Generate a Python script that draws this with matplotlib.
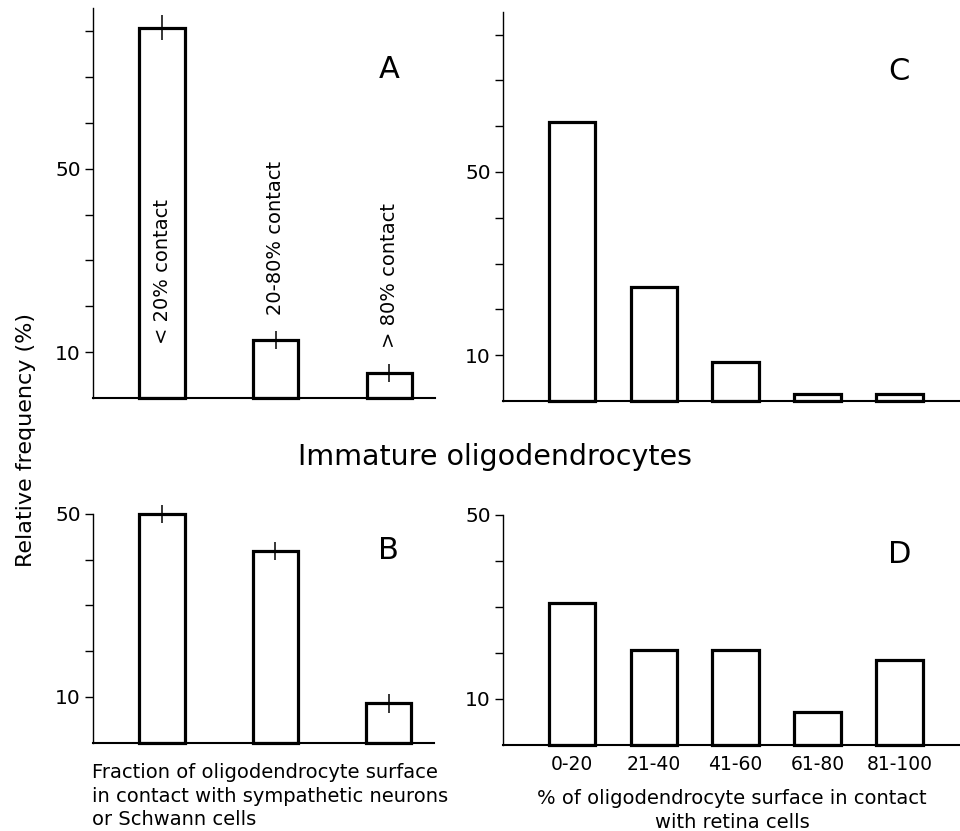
import numpy as np
import matplotlib
matplotlib.use("Agg")
import matplotlib.pyplot as plt

# panel A / B: contact with sympathetic neurons or Schwann cells
contact_labels = ["< 20% contact", "20-80% contact", "> 80% contact"]
a_vals = [80.8, 12.6, 5.5]
a_err = [2.8, 2.0, 1.9]
b_vals = [49.9, 41.8, 8.6]
b_err = [2.0, 2.0, 2.1]

# panel C / D: contact with retina cells
retina_bins = ["0-20", "21-40", "41-60", "61-80", "81-100"]
c_vals = [61.0, 25.0, 8.6, 1.6, 1.5]
d_vals = [30.8, 20.7, 20.6, 7.2, 18.4]

plt.rcParams["font.family"] = "DejaVu Sans"


def style_axes(ax, ylim, ticks):
    ax.set_ylim(*ylim)
    for side in ["top", "right"]:
        ax.spines[side].set_visible(False)
    ax.spines["left"].set_linewidth(1.0)
    ax.spines["bottom"].set_linewidth(1.5)
    ax.set_yticks(ticks)
    ax.set_yticklabels([str(t) if t in (10, 50) else "" for t in ticks])
    ax.tick_params(axis="y", direction="out", length=5.5, width=1.0,
                   labelsize=14.5, pad=3)
    ax.tick_params(axis="x", length=0)


def draw_bars(ax, x, vals, width, err=None):
    ax.bar(x, vals, width=width, facecolor="white", edgecolor="black",
           linewidth=2.3, zorder=2, clip_on=False)
    if err is not None:
        lo = np.array(vals) - np.array(err)
        hi = np.array(vals) + np.array(err)
        # error bars drawn as a plain vertical stroke through the bar top
        ax.vlines(x, lo, hi, colors="black", linewidth=1.1, zorder=3,
                  clip_on=False)


fig = plt.figure(figsize=(9.6, 8.31), dpi=100)

x3 = np.arange(1, len(contact_labels) + 1)
x5 = np.arange(1, len(retina_bins) + 1)

# ---- A ----
ax_a = fig.add_axes([0.0966, 0.521, 0.3564, 0.469])
draw_bars(ax_a, x3, a_vals, 0.4, a_err)
ax_a.set_xlim(0.39, 3.4)
style_axes(ax_a, (0, 85), np.arange(10, 81, 10))
ax_a.set_xticks([])
ax_a.text(x3[0], 27.7, contact_labels[0], rotation=90, ha="center",
          va="center", fontsize=14)
for i in (1, 2):
    ax_a.text(x3[i], a_vals[i] + a_err[i] + 3.5, contact_labels[i],
              rotation=90, ha="center", va="bottom", fontsize=14)
ax_a.text(3, 71.7, "A", ha="center", va="center", fontsize=22)

# ---- B ----
ax_b = fig.add_axes([0.0966, 0.1063, 0.3554, 0.2755])
draw_bars(ax_b, x3, b_vals, 0.4, b_err)
ax_b.set_xlim(0.39, 3.4)
style_axes(ax_b, (0, 50), np.arange(10, 51, 10))
ax_b.set_xticks([])
ax_b.text(3, 42, "B", ha="center", va="center", fontsize=22)

# ---- C ----
ax_c = fig.add_axes([0.5236, 0.5174, 0.4764, 0.4686])
draw_bars(ax_c, x5, c_vals, 0.567)
ax_c.set_xlim(0.154, 5.74)
style_axes(ax_c, (0, 85), np.arange(10, 81, 10))
ax_c.set_xticks([])
ax_c.text(5, 72, "C", ha="center", va="center", fontsize=22)

# ---- D ----
ax_d = fig.add_axes([0.5236, 0.1035, 0.4764, 0.2768])
draw_bars(ax_d, x5, d_vals, 0.567)
ax_d.set_xlim(0.154, 5.74)
style_axes(ax_d, (0, 50), np.arange(10, 51, 10))
ax_d.set_xticks(x5)
ax_d.set_xticklabels(retina_bins, fontsize=13.5)
ax_d.tick_params(axis="x", pad=7)
ax_d.text(5, 41.3, "D", ha="center", va="center", fontsize=22)

# shared texts
fig.text(495 / 960, 1 - 457 / 831, "Immature oligodendrocytes",
         ha="center", va="center", fontsize=20.5)
fig.text(26 / 960, 1 - 440 / 831, "Relative frequency (%)",
         rotation=90, ha="center", va="center", fontsize=16)
fig.text(92 / 960, 1 - 763 / 831,
         "Fraction of oligodendrocyte surface\n"
         "in contact with sympathetic neurons\n"
         "or Schwann cells",
         ha="left", va="top", fontsize=14, linespacing=1.3)
fig.text(732 / 960, 1 - 789 / 831,
         "% of oligodendrocyte surface in contact\nwith retina cells",
         ha="center", va="top", fontsize=14, linespacing=1.3)

fig.savefig("out.png", dpi=100)
